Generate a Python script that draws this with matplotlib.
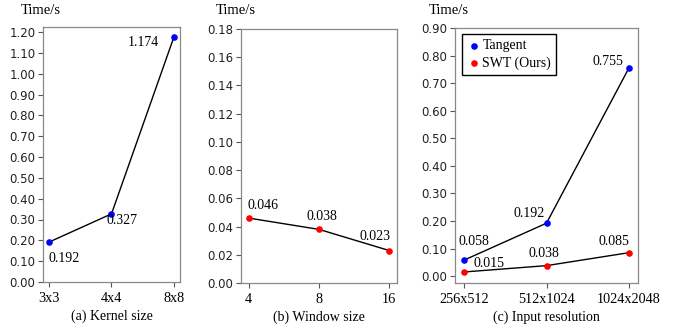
import matplotlib
matplotlib.use("Agg")
import matplotlib.pyplot as plt

# Data
kernel_labels = ["3x3", "4x4", "8x8"]
kernel_times = [0.192, 0.327, 1.174]
window_labels = ["4", "8", "16"]
window_times = [0.046, 0.038, 0.023]
res_labels = ["256x512", "512x1024", "1024x2048"]
tangent_times = [0.058, 0.192, 0.755]
swt_times = [0.015, 0.038, 0.085]

SERIF = "Liberation Serif"
W, H = 693, 333
fig = plt.figure(figsize=(W / 100, H / 100), dpi=100)

def box(l, t, r, b):
    return [l / W, 1 - b / H, (r - l) / W, (b - t) / H]

axa = fig.add_axes(box(43, 27, 180, 282))
axb = fig.add_axes(box(241, 29, 397, 283))
axc = fig.add_axes(box(455, 28, 638, 283))

def style(ax, labels, yticks, ylim, xlabel):
    ax.set_xticks(range(len(labels)))
    ax.set_xticklabels(labels, fontfamily=SERIF, fontsize=10.3)
    ax.set_yticks(yticks)
    ax.set_yticklabels([f"{v:.2f}" for v in yticks], fontsize=8.5, color="#222222")
    ax.set_ylim(*ylim)
    ax.set_xlim(-0.1, len(labels) - 1 + 0.1)
    for s in ax.spines.values():
        s.set_color("#888888")
        s.set_linewidth(0.9)
    ax.tick_params(axis="both", length=3.5, width=0.8, color="#555555", pad=2)
    ax.tick_params(axis="x", pad=4)
    ax.set_xlabel(xlabel, fontfamily=SERIF, fontsize=10, labelpad=3)

def lab(ax, x, y, s, dx, dy, ha):
    ax.annotate(s, (x, y), xytext=(dx, dy), textcoords="offset pixels",
                ha=ha, va="center", fontfamily=SERIF, fontsize=10)

# (a)
x = range(len(kernel_labels))
axa.plot(x, kernel_times, color="black", lw=1.0, zorder=1)
axa.scatter(x, kernel_times, color="#0000ff", s=14, zorder=2)
style(axa, kernel_labels, [i / 10 for i in range(13)], (0, 1.224), "(a) Kernel size")
lab(axa, 0, kernel_times[0], "0.192", -1, -17, "left")
lab(axa, 1, kernel_times[1], "0.327", -5, -7, "left")
lab(axa, 2, kernel_times[2], "1.174", -15, -5, "right")

# (b)
x = range(len(window_labels))
axb.plot(x, window_times, color="black", lw=1.0, zorder=1)
axb.scatter(x, window_times, color="#ff0000", s=14, zorder=2)
style(axb, window_labels, [i / 50 for i in range(10)], (0, 0.18), "(b) Window size")
axb.set_xlim(-0.11, 2.11)
lab(axb, 0, window_times[0], "0.046", -1, 13, "left")
lab(axb, 1, window_times[1], "0.038", 3, 13, "center")
lab(axb, 2, window_times[2], "0.023", 1, 14, "right")

# (c)
x = range(len(res_labels))
axc.plot(x, tangent_times, color="black", lw=1.0, zorder=1)
axc.plot(x, swt_times, color="black", lw=1.0, zorder=1)
axc.scatter(x, tangent_times, color="#0000ff", s=14, zorder=2, label="Tangent")
axc.scatter(x, swt_times, color="#ff0000", s=14, zorder=2, label="SWT (Ours)")
style(axc, res_labels, [i / 10 for i in range(10)], (-0.025, 0.9), "(c) Input resolution")
axc.set_xlim(-0.11, 2.11)
lab(axc, 0, tangent_times[0], "0.058", 10, 19, "center")
lab(axc, 1, tangent_times[1], "0.192", -2, 10, "right")
lab(axc, 2, tangent_times[2], "0.755", -6, 6, "right")
lab(axc, 0, swt_times[0], "0.015", 9, 8, "left")
lab(axc, 1, swt_times[1], "0.038", -3, 12, "center")
lab(axc, 2, swt_times[2], "0.085", 0, 11, "right")
leg = axc.legend(loc="upper left", bbox_to_anchor=(0.04, 0.975), prop={"family": SERIF, "size": 10},
                 fancybox=False, edgecolor="black", framealpha=1, handletextpad=0.1,
                 handlelength=1.0, borderpad=0.35, labelspacing=0.3, scatterpoints=1,
                 borderaxespad=0)
leg.get_frame().set_linewidth(1.0)

# y titles
for px in (21, 216, 429):
    fig.text(px / W, 1 - 10 / H, "Time/s", fontfamily=SERIF, fontsize=10.5, ha="left", va="center")

fig.savefig("out.png", dpi=100)
